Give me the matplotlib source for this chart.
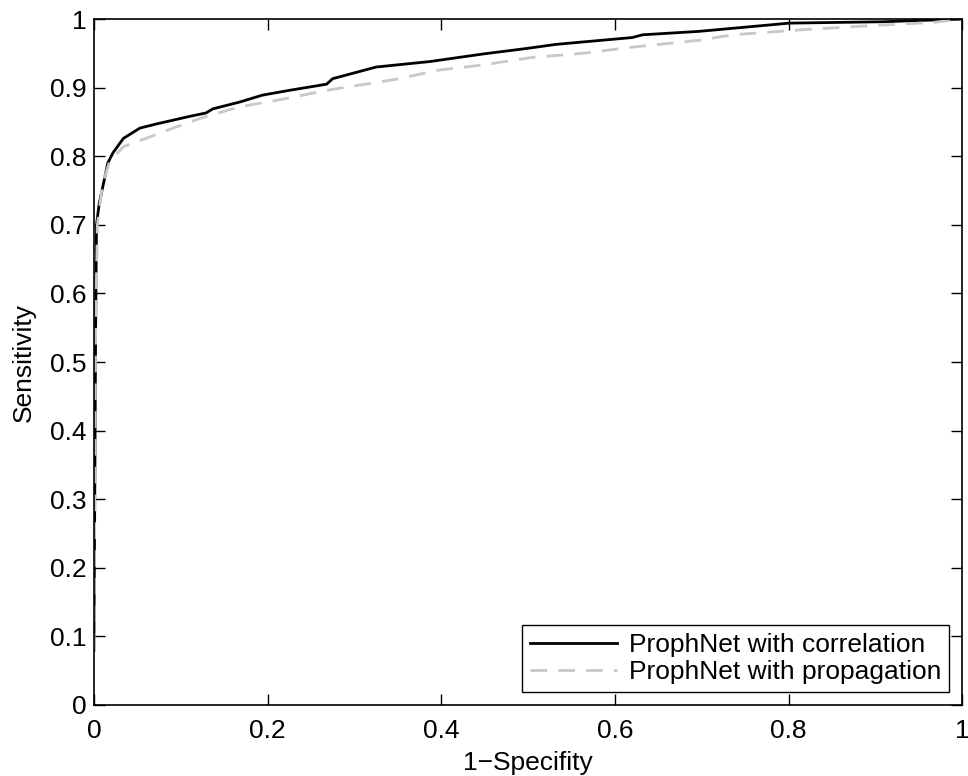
import matplotlib
matplotlib.use("Agg")
import matplotlib.pyplot as plt

# ROC curve points
fpr_corr = [0.0, 0.001, 0.002, 0.003, 0.006, 0.011, 0.016, 0.022, 0.034, 0.053,
            0.072, 0.110, 0.129, 0.137, 0.168, 0.194, 0.225, 0.268, 0.275, 0.325,
            0.387, 0.448, 0.498, 0.532, 0.620, 0.632, 0.697, 0.801, 0.908, 1.0]
tpr_corr = [0.08, 0.30, 0.55, 0.70, 0.73, 0.76, 0.79, 0.805, 0.826, 0.841,
            0.847, 0.858, 0.863, 0.869, 0.879, 0.889, 0.896, 0.905, 0.913, 0.930,
            0.938, 0.949, 0.957, 0.963, 0.973, 0.977, 0.982, 0.994, 0.996, 1.0]

fpr_prop = [0.0, 0.001, 0.002, 0.004, 0.010, 0.018, 0.034, 0.060, 0.091, 0.129,
            0.168, 0.217, 0.268, 0.352, 0.394, 0.448, 0.505, 0.563, 0.620, 0.697,
            0.736, 0.812, 0.889, 0.966, 1.0]
tpr_prop = [0.08, 0.30, 0.55, 0.70, 0.76, 0.792, 0.814, 0.826, 0.841, 0.858,
            0.872, 0.883, 0.896, 0.913, 0.925, 0.933, 0.944, 0.950, 0.959, 0.969,
            0.977, 0.984, 0.990, 0.995, 1.0]

labels = ["ProphNet with correlation", "ProphNet with propagation"]
xticks = [0, 0.2, 0.4, 0.6, 0.8, 1]
xticklabels = ["0", "0.2", "0.4", "0.6", "0.8", "1"]
yticks = [0, 0.1, 0.2, 0.3, 0.4, 0.5, 0.6, 0.7, 0.8, 0.9, 1]
yticklabels = ["0", "0.1", "0.2", "0.3", "0.4", "0.5", "0.6", "0.7", "0.8", "0.9", "1"]

plt.rcParams["font.family"] = ["Liberation Sans", "DejaVu Sans"]
FS = 19

fig = plt.figure(figsize=(9.68, 7.76), dpi=100)
ax = fig.add_axes([0.097, 0.0915, 0.897, 0.884])

ax.plot(fpr_corr, tpr_corr, color="black", lw=2.0, label=labels[0])
ax.plot(fpr_prop, tpr_prop, color="#c8c8c8", lw=2.0, dashes=(6, 4), label=labels[1])

ax.set_xlim(0, 1)
ax.set_ylim(0, 1)
ax.set_xticks(xticks)
ax.set_xticklabels(xticklabels)
ax.set_yticks(yticks)
ax.set_yticklabels(yticklabels)
ax.tick_params(direction="in", length=8, width=1, top=True, right=True,
               labelsize=FS)
ax.tick_params(axis="x", pad=10)
ax.tick_params(axis="y", pad=5.5)
for s in ax.spines.values():
    s.set_linewidth(1.2)

ax.set_xlabel("1\u2212Specifity", fontsize=FS, labelpad=6)
ax.set_ylabel("Sensitivity", fontsize=FS, labelpad=10)

leg = ax.legend(loc="lower right", fontsize=FS, frameon=True, fancybox=False,
                edgecolor="black", framealpha=1, borderpad=0.3, labelspacing=0.1,
                handlelength=3.3, handletextpad=0.45, borderaxespad=0.5)
leg.get_frame().set_linewidth(1.0)

fig.savefig("out.png", dpi=100, facecolor="white")
